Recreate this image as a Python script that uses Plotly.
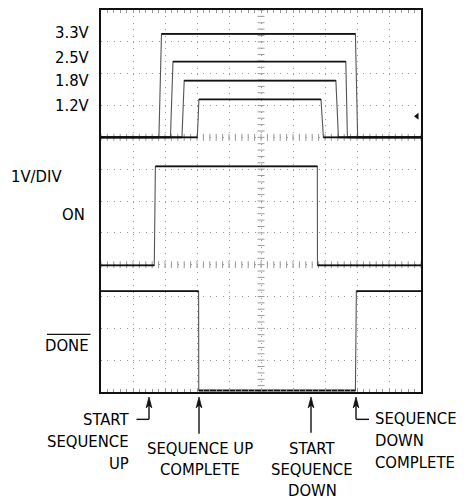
import numpy as np
import plotly.graph_objects as go

# ---------------- data (time in divisions, amplitude in volts, 1V/DIV) ----------------
rail_names = ["3.3V", "2.5V", "1.8V", "1.2V"]
rail_levels = [3.25, 2.38, 1.78, 1.19]
rail_rise_start = [1.81, 2.17, 2.53, 3.01]
rail_rise_end = [1.89, 2.25, 2.60, 3.06]
rail_fall_start = [7.95, 7.65, 7.34, 6.875]
rail_fall_end = [8.02, 7.70, 7.42, 6.95]
ch1_offset = 8.0

on_level = 3.11
on_rise = [1.665, 1.70]
on_fall = [6.76, 6.765]
ch2_offset = 3.98

done_level = 3.12
done_fall = [3.05, 3.055]
done_rise = [7.95, 7.98]
ch3_offset = 0.047

label_texts = ["3.3V", "2.5V", "1.8V", "1.2V", "1V/DIV", "ON", "DONE"]

# ---------------- geometry helpers ----------------
W, H = 467, 501
L, R, T, B = 101, 421, 8, 392
XDIV, YDIV = 10, 12


def px(x):
    return (x - L) / (R - L)


def py(y):
    return (B - y) / (B - T)


def pulse(t0a, t0b, t1a, t1b, lvl, off, inverted=False):
    if not inverted:
        ys = [0, 0, lvl, lvl, 0, 0]
    else:
        ys = [lvl, lvl, 0, 0, lvl, lvl]
    xs = [0, t0a, t0b, t1a, t1b, XDIV]
    return xs, [v + off for v in ys]


def flats(xs, ys):
    fx, fy = [], []
    for i in range(len(xs) - 1):
        if abs(ys[i] - ys[i + 1]) < 1e-9:
            fx += [xs[i], xs[i + 1], None]
            fy += [ys[i], ys[i + 1], None]
    return fx, fy


fig = go.Figure()

# minor ticks on centre vertical and the channel ground lines
gray = "#9a9a9a"
mt = np.arange(0, YDIV + 1e-9, 0.2)
fig.add_trace(go.Scatter(x=[5.0] * len(mt), y=mt, mode="markers",
                         marker=dict(symbol="line-ew", size=5, line=dict(width=1, color=gray)),
                         hoverinfo="skip", showlegend=False, cliponaxis=True))
mx = np.arange(0, XDIV + 1e-9, 0.2)
for yy in (4.0, 8.0):
    fig.add_trace(go.Scatter(x=mx, y=[yy] * len(mx), mode="markers",
                             marker=dict(symbol="line-ns", size=5, line=dict(width=1, color=gray)),
                             hoverinfo="skip", showlegend=False, cliponaxis=True))

waves = []
for i in range(len(rail_names)):
    waves.append(pulse(rail_rise_start[i], rail_rise_end[i], rail_fall_start[i], rail_fall_end[i],
                       rail_levels[i], ch1_offset))
waves.append(pulse(on_rise[0], on_rise[1], on_fall[0], on_fall[1], on_level, ch2_offset))
waves.append(pulse(done_fall[0], done_fall[1], done_rise[0], done_rise[1], done_level, ch3_offset,
                   inverted=True))

for xs, ys in waves:
    fig.add_trace(go.Scatter(x=xs, y=ys, mode="lines", line=dict(color="#555", width=1.1),
                             hoverinfo="skip", showlegend=False))
for xs, ys in waves:
    fx, fy = flats(xs, ys)
    fig.add_trace(go.Scatter(x=fx, y=fy, mode="lines", line=dict(color="#111", width=1.8),
                             hoverinfo="skip", showlegend=False))

# trigger marker
fig.add_trace(go.Scatter(x=[9.875], y=[8.66], mode="markers",
                         marker=dict(symbol="triangle-left", size=6, color="#111"),
                         hoverinfo="skip", showlegend=False))

FONT = "DejaVu Sans Condensed, Liberation Sans Narrow, sans-serif"
anns = []


def txt(s, x, y, xa, size=16.5):
    anns.append(dict(text=s, x=px(x), y=py(y), xref="paper", yref="paper", xanchor=xa,
                     yanchor="middle", showarrow=False, font=dict(family=FONT, size=size, color="#000")))


# left labels
for s, yy in zip(label_texts[:4], [31, 56, 79, 104]):
    txt(s, 92, yy, "right", 16.5)
txt(label_texts[4], 64, 175, "right")
txt(label_texts[5], 87, 214, "right")
txt(label_texts[6], 91, 345, "right")

# bottom annotations
txt("START", 131, 420, "right")
txt("SEQUENCE", 131, 442, "right")
txt("UP", 131, 464, "right")
txt("SEQUENCE UP", 200, 449, "center")
txt("COMPLETE", 200, 470, "center")
txt("START", 312, 449, "center")
txt("SEQUENCE", 312, 470, "center")
txt("DOWN", 312, 491, "center")
txt("SEQUENCE", 373, 419, "left")
txt("DOWN", 373, 441, "left")
txt("COMPLETE", 373, 463, "left")

shapes = []


def seg(x0, y0, x1, y1, w=1.4, c="#111"):
    shapes.append(dict(type="line", xref="paper", yref="paper", x0=px(x0), y0=py(y0),
                       x1=px(x1), y1=py(y1), line=dict(color=c, width=w)))


def head(x, ytip):
    p = "M{:.5f},{:.5f} L{:.5f},{:.5f} L{:.5f},{:.5f} L{:.5f},{:.5f} Z".format(
        px(x), py(ytip), px(x - 2.8), py(ytip + 11), px(x), py(ytip + 8), px(x + 2.8), py(ytip + 11))
    shapes.append(dict(type="path", xref="paper", yref="paper", path=p,
                       fillcolor="#111", line=dict(color="#111", width=0.8)))


# arrows
seg(149, 404, 149, 419.5); seg(149, 419.5, 136.5, 419.5); head(149, 397)
seg(199, 404, 199, 434); head(199, 397)
seg(311, 404, 311, 433); head(311, 397)
seg(356, 404, 356, 419.5); seg(356, 419.5, 369, 419.5); head(356, 397)

# DONE overline
seg(47, 334, 90.5, 334, 1.3)

fig.update_layout(
    width=W, height=H, margin=dict(l=L, r=W - R, t=T, b=H - B),
    paper_bgcolor="white", plot_bgcolor="white",
    annotations=anns, shapes=shapes, showlegend=False,
)
fig.update_xaxes(range=[0, XDIV], dtick=1, tick0=0, showticklabels=False,
                 showgrid=True, gridcolor=gray, gridwidth=1, griddash="1px,5.4px",
                 zeroline=False, showline=True, linecolor="#111", linewidth=2, mirror="allticks",
                 ticks="inside", ticklen=3, tickcolor=gray,
                 minor=dict(dtick=0.2, ticks="inside", ticklen=3, tickcolor=gray, showgrid=False))
fig.update_yaxes(range=[0, YDIV], dtick=1, tick0=0, showticklabels=False,
                 showgrid=True, gridcolor=gray, gridwidth=1, griddash="1px,5.4px",
                 zeroline=False, showline=True, linecolor="#111", linewidth=2, mirror=True,
                 ticks="")

fig.write_html("out.html", config={"displayModeBar": False},
               post_script="document.body.style.margin='0px';")
